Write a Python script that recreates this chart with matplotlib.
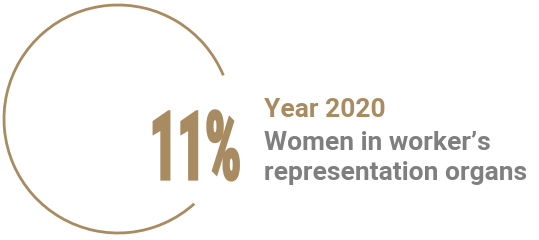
import matplotlib
matplotlib.use("Agg")
import matplotlib.pyplot as plt
from matplotlib.patches import Arc
from matplotlib.patheffects import AbstractPathEffect
from matplotlib.transforms import Affine2D

# Data
share_value = 11
year = 2020
label_lines = ["Women in worker\u2019s", "representation organs"]

TAN = "#A98B62"
GREY = "#7F7F7F"


class Squeeze(AbstractPathEffect):
    # narrow the glyphs horizontally, keeping the right edge in place,
    # and thicken them a little with an outline of the same colour
    def __init__(self, sx, stroke=0.0):
        super().__init__()
        self._sx = sx
        self._stroke = stroke

    def draw_path(self, renderer, gc, tpath, affine, rgbFace=None):
        xmax = tpath.get_extents().x1
        squeeze = Affine2D().translate(-xmax, 0).scale(self._sx, 1).translate(xmax, 0)
        gc0 = renderer.new_gc()
        gc0.copy_properties(gc)
        if self._stroke and rgbFace is not None:
            gc0.set_linewidth(self._stroke)
            gc0.set_foreground(rgbFace)
            gc0.set_joinstyle("miter")
        renderer.draw_path(gc0, tpath, squeeze + affine, rgbFace)
        gc0.restore()


def main():
    W, H = 539, 240
    fig = plt.figure(figsize=(W / 100, H / 100), dpi=100)
    ax = fig.add_axes([0, 0, 1, 1])
    ax.set_xlim(0, W)
    ax.set_ylim(H, 0)
    ax.axis("off")

    # open ring around the figure
    ring = Arc((118, 119), 228, 228, theta1=48, theta2=337.5,
               color=TAN, lw=2.0)
    ax.add_patch(ring)

    ax.text(243, 179.5, f"{share_value}%", color=TAN, fontsize=69,
            family="Roboto", weight="black", ha="right", va="baseline",
            path_effects=[Squeeze(0.5, stroke=1.6)])

    ax.text(264, 117, f"Year {year}", color=TAN, fontsize=19,
            family="Roboto", weight="bold", ha="left", va="baseline")
    for i, line in enumerate(label_lines):
        ax.text(264, 150 + 30 * i, line, color=GREY, fontsize=19,
                family="Roboto", weight="bold", ha="left", va="baseline")

    fig.savefig("out.png", dpi=100)


if __name__ == "__main__":
    main()
